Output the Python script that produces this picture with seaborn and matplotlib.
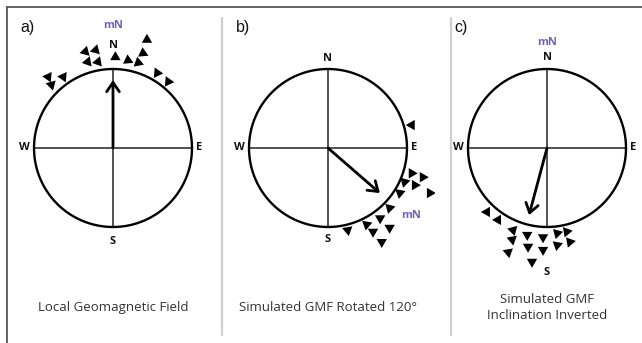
"""Three compass panels: local, rotated and inverted geomagnetic field."""
import matplotlib
matplotlib.use("Agg")
import matplotlib.pyplot as plt
from matplotlib.lines import Line2D
import numpy as np
import pandas as pd
import seaborn as sns

# compass units: circle radius = 1, north up
panel_tags = ["a)", "b)", "c)"]
captions = ["Local Geomagnetic Field",
            "Simulated GMF Rotated 120°",
            "Simulated GMF\nInclination Inverted"]

# field arrow: bearing (deg clockwise from N) and length
arrow_bearing = [0, 131, 195]
arrow_length = [0.86, 0.87, 0.88]

# "mN" marker positions
mn_u = [0.0, 1.05, 0.0]
mn_v = [1.55, -0.86, 1.34]

# N / S label heights per panel
n_v = [1.30, 1.13, 1.15]
s_v = [-1.18, -1.16, -1.58]

# triangle samples: position and pointing angle (deg, ccw from up)
tri_a_u = [-0.82, -0.63, -0.78, -0.35, -0.22, -0.32, -0.19, 0.03, 0.19, 0.32, 0.38, 0.43, 0.56, 0.70]
tri_a_v = [0.90, 0.90, 0.80, 1.22, 1.24, 1.09, 1.09, 1.15, 1.11, 1.08, 1.20, 1.37, 0.95, 0.84]
tri_a_ang = [-35, -35, -45, -15, -15, -20, -20, 0, 5, 10, 5, 0, 25, 25]

tri_b_u = [1.06, 1.06, 1.20, 0.97, 1.10, 0.91, 1.29, 0.78, 0.66, 0.78, 0.49, 0.57, 0.25, 0.68]
tri_b_v = [0.29, -0.32, -0.37, -0.43, -0.47, -0.57, -0.57, -0.76, -0.89, -1.01, -0.97, -1.06, -1.04, -1.19]
tri_b_ang = [90, 30, 30, 45, 30, 50, 30, 45, 60, 60, 50, 60, 70, 60]

tri_c_u = [-0.76, -0.62, -0.43, -0.25, -0.05, 0.13, 0.25, 0.29, 0.13, -0.44, -0.24, -0.05, -0.49, -0.19]
tri_c_v = [-0.81, -0.91, -1.04, -1.10, -1.13, -1.08, -1.06, -1.19, -1.23, -1.16, -1.25, -1.29, -1.32, -1.44]
tri_c_ang = [210, 210, 195, 180, 180, 165, 160, 160, 170, 190, 180, 180, 190, 180]

triangles = [
    pd.DataFrame({"u": tri_a_u, "v": tri_a_v, "ang": tri_a_ang}),
    pd.DataFrame({"u": tri_b_u, "v": tri_b_v, "ang": tri_b_ang}),
    pd.DataFrame({"u": tri_c_u, "v": tri_c_v, "ang": tri_c_ang}),
]

sns.set_style("white")
plt.rcParams["font.family"] = ["Open Sans", "DejaVu Sans"]

W, H, R = 642, 343, 79.0
centers_px = [113, 328, 547]
cy_px = 148
MN_COLOR = "#6b62b8"

fig = plt.figure(figsize=(W / 100, H / 100), dpi=100)

# outer frame (top and left edges) and panel separators
fig.add_artist(Line2D([7 / W, 1], [1 - 7 / H, 1 - 7 / H], transform=fig.transFigure,
                      color="#555555", lw=1.3))
fig.add_artist(Line2D([7 / W, 7 / W], [0, 1 - 7 / H], transform=fig.transFigure,
                      color="#555555", lw=1.3))
for xs in (222, 451):
    fig.add_artist(Line2D([xs / W, xs / W], [1 - 18 / H, 1 - 335 / H], transform=fig.transFigure,
                          color="#cfcfcf", lw=1.6))

theta = np.linspace(0, 2 * np.pi, 361)
for i, cx in enumerate(centers_px):
    ax = fig.add_axes([(cx - 107) / W, 0, 214 / W, 1])
    ax.set_xlim(-107 / R, 107 / R)
    ax.set_ylim(-(H - cy_px) / R, cy_px / R)
    ax.axis("off")

    # cross and circle
    ax.plot([-1, 1], [0, 0], color="#333333", lw=1.2)
    ax.plot([0, 0], [-1, 1], color="#333333", lw=1.2)
    ax.plot(np.cos(theta), np.sin(theta), color="black", lw=1.7)

    # triangles
    df = triangles[i]
    markers = {a: (3, 0, a) for a in df["ang"].unique()}
    sns.scatterplot(data=df, x="u", y="v", style="ang", markers=markers, color="black",
                    s=75, edgecolor="none", legend=False, ax=ax)

    # field arrow
    b = np.radians(arrow_bearing[i])
    L = arrow_length[i]
    ax.annotate("", xy=(L * np.sin(b), L * np.cos(b)), xytext=(0, 0),
                arrowprops=dict(arrowstyle="->,head_length=0.55,head_width=0.38",
                                lw=2.0, color="black", mutation_scale=12,
                                shrinkA=0, shrinkB=0))

    # cardinal labels
    kw = dict(ha="center", va="center", fontsize=8, fontweight="bold", color="#111111")
    ax.text(0, n_v[i], "N", **kw)
    ax.text(0, s_v[i], "S", **kw)
    ax.text(-1.12, 0, "W", **kw)
    ax.text(1.09, 0, "E", **kw)
    ax.text(mn_u[i], mn_v[i], "mN", ha="center", va="center", fontsize=8,
            fontweight="bold", color=MN_COLOR)

    ax.text(-1.17, 1.52, panel_tags[i], ha="left", va="center", fontsize=11.5,
            family=["Liberation Sans", "DejaVu Sans"], color="#111111")
    ax.text(0, -2.02, captions[i], ha="center", va="center", fontsize=9.5,
            color="#333333", linespacing=1.3)

fig.savefig("out.png", dpi=100)
plt.close(fig)
